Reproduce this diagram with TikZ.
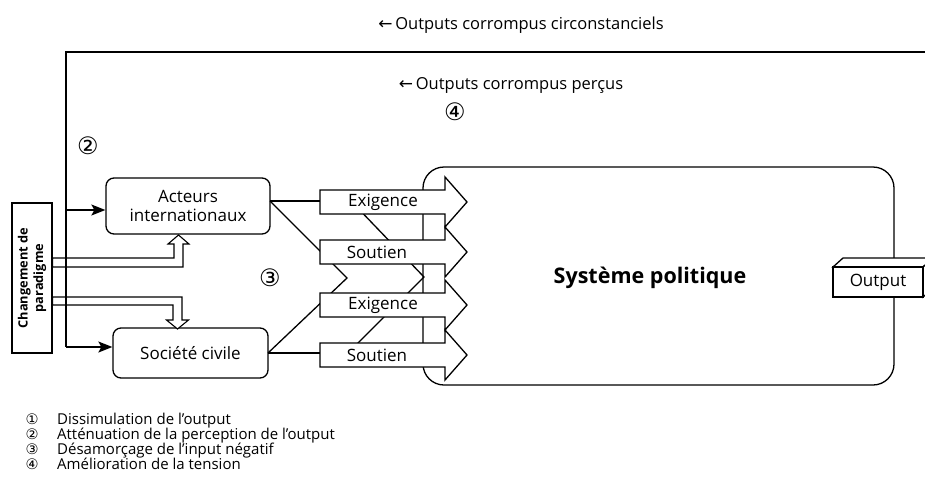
\documentclass[tikz,border=0pt]{standalone}
\usepackage{fontspec}
\setmainfont{Open Sans}
\newfontfamily\symf{DejaVu Sans}
\usetikzlibrary{arrows.meta}
\tikzset{
  lw/.style={line width=1.3pt},
  rbox/.style={draw, lw, rounded corners=8pt, fill=white, align=center, font=\fontsize{17}{18.5}\selectfont},
  lbl/.style={font=\fontsize{17}{18}\selectfont, inner sep=0pt},
  ttl/.style={font=\fontsize{16.5}{18}\selectfont, inner sep=0pt},
  num/.style={font=\symf\fontsize{24}{24}\selectfont, inner sep=0pt},
  lnum/.style={font=\symf\fontsize{14.5}{14.5}\selectfont, inner sep=0pt, text height=8pt, text depth=2pt},
  blockarrow/.style={draw, lw, fill=white, line join=miter},
  hollow/.style={draw, line width=1.1pt, fill=white},
  conn/.style={lw},
  tip/.style={lw, -{Stealth[length=14pt,width=11pt,inset=3pt]}},
  legend/.style={font=\fontsize{15}{15}\selectfont, anchor=west, inner sep=0pt, text height=9.5pt, text depth=3pt}
}
\begin{document}
\begin{tikzpicture}[x=1pt,y=-1pt]
\useasboundingbox (0,0) rectangle (925,498);

% titles
\node[ttl] (t1) at (521,25) {{\symf\fontsize{17}{17}\selectfont ←}\,Outputs corrompus circonstanciels};
\node[ttl] (t2) at (511,85) {{\symf\fontsize{17}{17}\selectfont ←}\,Outputs corrompus perçus};
\node[num] (n4) at (455,112) {④};
\node[num] (n2) at (88,146) {②};
\node[num] (n3) at (270,278) {③};
\node[num] (n1) at (810,245) {①};

% system box
\draw[lw, fill=white, rounded corners=21pt] (423,167) rectangle (894,385);
\node[font=\bfseries\fontsize{21.5}{23}\selectfont] (sys) at (650,278) {Système politique};

% loop line
\coordinate (re) at (930,52);
\coordinate (tl) at (66,52);
\coordinate (ja) at (66,210);
\coordinate (js) at (66,347);

% left boxes
\node[rbox, minimum width=164pt, minimum height=56pt] (act) at (188,206) {Acteurs\\internationaux};
\node[rbox, minimum width=155pt, minimum height=50pt] (soc) at (190.5,353) {Société civile};
\node[draw, lw, minimum width=40pt, minimum height=150pt, inner sep=0pt] (chg) at (32,278) {};
\node[rotate=90, align=center, font=\bfseries\fontsize{12.8}{15.5}\selectfont, inner sep=0pt] (chgt) at (32,278) {Changement de\\paradigme};

\draw[conn] (re) -- (tl) -- (js);
\draw[tip] (ja) -- (act.west |- ja);
\draw[tip] (js) -- (soc.west |- js);

% hollow arrows from Changement
\draw[hollow] (chg.east |- 0,258) -- (174,258) -- (174,244) -- (168,244) -- (178.5,235) -- (189,244) -- (183,244) -- (183,267) -- (chg.east |- 0,267) -- cycle;
\draw[hollow] (chg.east |- 0,297) -- (182,297) -- (182,320) -- (188.5,320) -- (177.5,329) -- (166.5,320) -- (173,320) -- (173,305) -- (chg.east |- 0,305) -- cycle;
\draw[conn] (66,255) -- (66,310);

% connection points
\coordinate (ao) at (270,201);
\coordinate (so) at (268,353);
\coordinate (m1) at (347,278);
\coordinate (a2) at (350,200);
\coordinate (m2) at (424,277);
\coordinate (s2) at (348,353);

\draw[conn] (ao) -- (m1) -- (so);
\draw[conn] (a2) -- (m2) -- (s2);

% block arrows
\foreach \c/\n in {202/e1, 252/s1, 305/e2, 355/s2b}{
  \draw[blockarrow] (320,\c-12) -- (445,\c-12) -- (445,\c-25) -- (467,\c) -- (445,\c+25) -- (445,\c+12) -- (320,\c+12) -- cycle;
  \coordinate (\n) at (320,\c);
}
\node[lbl] (le1) at (383,202) {Exigence};
\node[lbl] (ls1) at (377,252) {Soutien};
\node[lbl] (le2) at (383,305) {Exigence};
\node[lbl] (ls2) at (377,355) {Soutien};

\draw[conn] (ao) -- (ao -| e1);
\draw[conn] (so) -- (so -| s2b);

% output box
\draw[lw, fill=white] (833,267) -- (843,258) -- (933,258) -- (923,267) -- cycle;
\draw[lw, fill=white] (923,267) -- (933,258) -- (933,288) -- (923,297) -- cycle;
\node[draw, lw, fill=white, minimum width=90pt, minimum height=30pt, inner sep=0pt, font=\fontsize{17}{18}\selectfont] (out) at (878,282) {Output};

% legend
\foreach \y/\a/\t in {421/l1/{①}, 436/l2/{②}, 451/l3/{③}, 466/l4/{④}}{
  \node[lnum] (\a) at (32,\y) {\t};
}
\node[legend] (d1) at (57,421) {Dissimulation de l’output};
\node[legend] (d2) at (57,436) {Atténuation de la perception de l’output};
\node[legend] (d3) at (57,451) {Désamorçage de l’input négatif};
\node[legend] (d4) at (57,466) {Amélioration de la tension};
\end{tikzpicture}
\end{document}
